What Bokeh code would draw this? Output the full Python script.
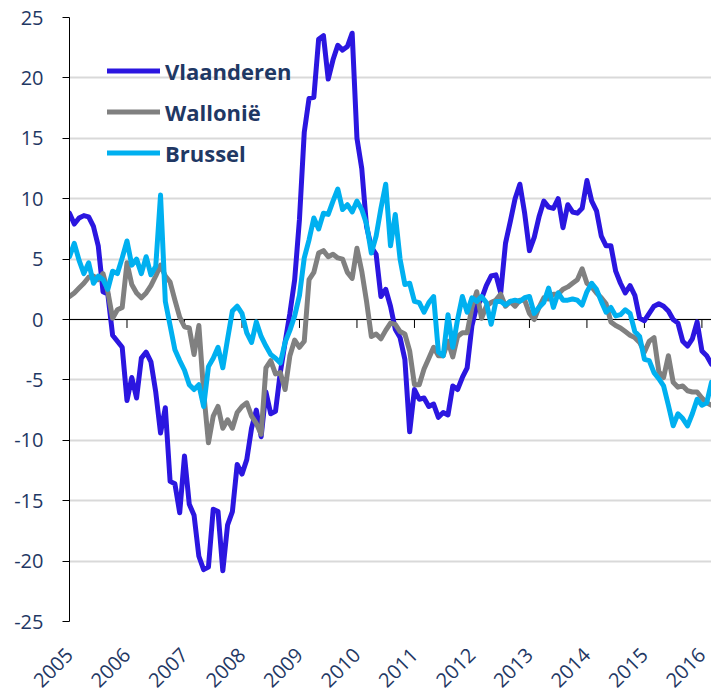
import pandas as pd
from bokeh.plotting import figure
from bokeh.models import Range1d, Legend, LegendItem, Span, FixedTicker
from bokeh.embed import file_html
from bokeh.resources import INLINE

# ---- data (monthly, Jan 2005 .. Mar 2016) ----
vlaanderen = [
    8.8, 7.9, 8.4, 8.6, 8.5, 7.7, 6.1, 2.3, 2.1, -1.3, -1.8, -2.3,
    -6.7, -4.8, -6.5, -3.2, -2.7, -3.5, -6.0, -9.4, -7.3, -13.4, -13.6, -16.0,
    -11.3, -15.3, -16.2, -19.6, -20.7, -20.5, -15.7, -15.9, -20.8, -17.0, -15.9, -12.0,
    -12.8, -11.6, -9.0, -7.5, -9.7, -6.0, -7.8, -7.6, -4.4, -1.9, 0.5, 3.3,
    8.3, 15.5, 18.3, 18.4, 23.2, 23.5, 19.9, 21.5, 22.7, 22.3, 22.6, 23.7,
    15.0, 12.5, 7.7, 6.0, 5.4, 1.9, 2.5, 1.1, -0.8, -1.5, -3.3, -9.3,
    -5.8, -6.6, -6.5, -7.2, -7.0, -8.1, -7.7, -7.9, -5.5, -5.8, -4.8, -4.0,
    -0.5, 1.1, 1.7, 2.8, 3.6, 3.7, 2.2, 6.3, 8.1, 10.0, 11.2, 8.8,
    5.7, 6.8, 8.5, 9.8, 9.3, 9.2, 10.0, 7.6, 9.5, 8.9, 8.8, 9.2,
    11.5, 9.8, 9.0, 6.9, 6.1, 6.1, 4.0, 3.0, 2.2, 2.8, 2.0, 0.1,
    -0.1, 0.5, 1.1, 1.3, 1.1, 0.7, 0.0, -0.3, -1.8, -2.2, -1.6, -0.2,
    -2.6, -3.0, -3.7,
]
wallonie = [
    1.9, 2.2, 2.6, 3.0, 3.5, 3.6, 3.3, 3.8, 2.3, 0.1, 0.8, 1.0,
    4.7, 2.9, 2.2, 1.8, 2.2, 2.8, 3.6, 4.5, 3.6, 3.1, 1.6, 0.2,
    -0.6, -0.7, -2.9, -0.5, -6.0, -10.2, -8.0, -7.2, -9.0, -8.3, -9.0, -7.7,
    -7.2, -6.9, -8.0, -8.6, -9.5, -4.0, -3.4, -4.5, -4.4, -5.8, -3.0, -1.7,
    -2.3, -1.8, 3.3, 3.9, 5.5, 5.7, 5.2, 5.4, 5.1, 5.0, 3.9, 3.4,
    5.9, 4.0, 1.5, -1.4, -1.2, -1.6, -0.9, -0.3, -0.4, -1.0, -1.2, -2.6,
    -5.4, -5.4, -4.1, -3.2, -2.3, -3.0, -3.0, -1.8, -3.1, -1.4, -1.1, -1.1,
    1.0, 2.3, 0.1, 1.1, 1.4, 1.6, 2.1, 1.1, 1.5, 1.1, 1.6, 1.6,
    0.5, 0.0, 1.0, 1.8, 1.7, 2.1, 2.1, 2.5, 2.7, 3.0, 3.3, 4.2,
    3.0, 2.7, 2.2, 1.8, 1.3, -0.2, -0.5, -0.7, -1.0, -1.3, -1.5, -1.9,
    -2.7, -1.8, -1.5, -4.3, -4.8, -3.0, -5.2, -5.6, -5.5, -5.9, -6.0, -6.0,
    -6.5, -6.9, -7.1,
]
brussel = [
    5.2, 6.3, 4.9, 3.8, 4.7, 3.0, 3.6, 3.3, 2.5, 4.0, 3.8, 5.1,
    6.5, 4.5, 5.0, 3.8, 5.2, 3.7, 4.4, 10.3, 1.5, -0.5, -2.5, -3.4,
    -4.2, -5.4, -5.8, -5.4, -7.2, -3.9, -3.2, -2.3, -4.0, -1.6, 0.7, 1.1,
    0.5, -1.1, -1.9, -0.2, -1.4, -2.2, -2.9, -3.2, -3.6, -1.9, -0.9, 0.3,
    2.0, 5.1, 6.6, 8.4, 7.5, 8.8, 8.7, 9.8, 10.8, 9.1, 9.5, 8.9,
    9.8, 9.1, 7.9, 5.5, 6.9, 9.2, 11.2, 6.1, 8.7, 5.0, 2.9, 3.0,
    1.5, 1.4, 0.6, 1.4, 1.9, -2.7, -3.0, 0.4, -2.3, 0.0, 1.9, 0.6,
    1.8, 1.5, 1.9, 1.4, -0.4, 1.5, 1.5, 1.2, 1.5, 1.6, 1.5, 1.8,
    1.9, 0.5, 1.0, 1.4, 2.6, 1.0, 2.2, 1.6, 1.6, 1.7, 1.6, 1.2,
    2.3, 3.0, 2.5, 1.5, 0.6, 1.0, 0.3, 0.4, 0.8, 0.5, -1.0, -1.4,
    -3.3, -3.4, -4.4, -4.9, -5.5, -7.1, -8.8, -7.8, -8.2, -8.8, -7.8, -6.6,
    -7.1, -6.9, -5.2,
]
series_names = ["Vlaanderen", "Wallonië", "Brussel"]
series_colors = ["#2B16E0", "#808080", "#00B0F0"]
year_ticks = list(range(2005, 2017))
year_labels = [str(y) for y in year_ticks]
y_ticks = list(range(-25, 30, 5))
y_labels = [str(v) for v in y_ticks]

dates = pd.date_range("2005-01-01", periods=len(vlaanderen), freq="MS")
t = (dates.year + (dates.month - 1) / 12.0).tolist()

navy = "#1F3864"
font = "Open Sans"

p = figure(width=711, height=696, output_backend="svg", toolbar_location=None,
           x_range=Range1d(2005, t[-1]), y_range=Range1d(-25, 25),
           min_border_left=69, min_border_right=0, min_border_top=17,
           min_border_bottom=73)
p.outline_line_color = None
p.background_fill_color = "white"

# grid
p.xgrid.grid_line_color = None
p.ygrid.ticker = FixedTicker(ticks=y_ticks)
p.ygrid.grid_line_color = "#D9D9D9"
p.ygrid.grid_line_width = 2

# y axis
p.yaxis.ticker = FixedTicker(ticks=y_ticks)
p.yaxis.major_label_overrides = dict(zip(y_ticks, y_labels))
p.yaxis.axis_line_color = "black"
p.yaxis.major_tick_line_color = "black"
p.yaxis.major_tick_in = 0
p.yaxis.major_tick_out = 7
p.yaxis.minor_tick_line_color = None
p.yaxis.major_label_standoff = 19
p.yaxis.major_label_text_font = font
p.yaxis.major_label_text_font_size = "20px"
p.yaxis.major_label_text_color = navy

# x axis labels at the bottom
p.xaxis.ticker = FixedTicker(ticks=year_ticks)
p.xaxis.major_label_overrides = dict(zip(year_ticks, year_labels))
p.xaxis.axis_line_color = None
p.xaxis.major_tick_line_color = None
p.xaxis.minor_tick_line_color = None
p.xaxis.major_label_orientation = 0.785398
p.xaxis.major_label_standoff = 24
p.xaxis.major_label_text_font = font
p.xaxis.major_label_text_font_size = "20px"
p.xaxis.major_label_text_color = navy

zero = Span(location=0, dimension="width", line_color="black", line_width=1, level="underlay")
p.add_layout(zero)
p.segment(x0=year_ticks, y0=[0] * len(year_ticks), x1=year_ticks, y1=[-0.7] * len(year_ticks),
          line_color="black", line_width=1)

renderers = []
for name, vals, col in zip(series_names, [vlaanderen, wallonie, brussel], series_colors):
    r = p.line(t, vals, line_color=col, line_width=5, line_join="round", line_cap="round")
    renderers.append((name, r))

legend = Legend(items=[LegendItem(label=n, renderers=[r]) for n, r in renderers],
                location=(38, 448), orientation="vertical",
                label_text_font=font, label_text_font_size="22px",
                label_text_font_style="bold", label_text_color=navy,
                glyph_width=53, glyph_height=41, label_height=41,
                spacing=0, padding=0, margin=0, label_standoff=5,
                border_line_alpha=0, background_fill_alpha=0)
p.add_layout(legend)

open("out.html", "w").write(file_html(p, INLINE))
